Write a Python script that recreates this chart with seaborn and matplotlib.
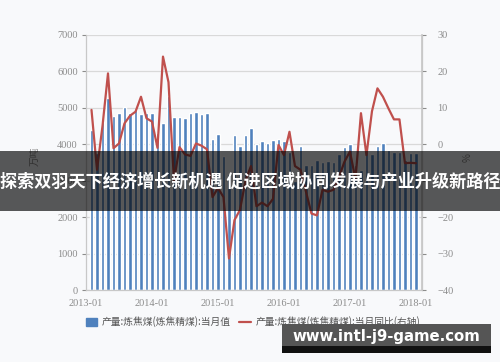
import numpy as np
import pandas as pd
import matplotlib
matplotlib.use("Agg")
import matplotlib.pyplot as plt
import seaborn as sns
from matplotlib.patches import Patch, Rectangle
from matplotlib.lines import Line2D

months = ["2013-02","2013-03","2013-04","2013-05","2013-06","2013-07","2013-08","2013-09","2013-10","2013-11","2013-12",
          "2014-01","2014-02","2014-03","2014-04","2014-05","2014-06","2014-07","2014-08","2014-09","2014-10","2014-11","2014-12",
          "2015-01","2015-02","2015-03","2015-04","2015-05","2015-06","2015-07","2015-08","2015-09","2015-10","2015-11","2015-12",
          "2016-01","2016-02","2016-03","2016-04","2016-05","2016-06","2016-07","2016-08","2016-09","2016-10","2016-11","2016-12",
          "2017-01","2017-02","2017-03","2017-04","2017-05","2017-06","2017-07","2017-08","2017-09","2017-10","2017-11","2017-12",
          "2018-01"]
volume = [4400, 3750, 4600, 5275, 4770, 4855, 5010, 4855, 4945, 4830, 4850,
          4846, 4298, 4589, 5330, 4737, 4737, 4710, 4846, 4873, 4827, 4846, 4142,
          4279, 3676, 3184, 4244, 3960, 4260, 4435, 4005, 4079, 4024, 4106, 4142,
          4079, 3795, 3000, 3942, 3438, 3438, 3567, 3504, 3548, 3520, 3731, 3934,
          3997, 3430, 3300, 3820, 3723, 3960, 4024, 3841, 3786, 3786, 3560, 3770,
          3760]
yoy = [9.4, -7.0, 5.0, 19.4, -1.1, 0.2, 5.7, 7.8, 8.9, 13.0, 7.1,
       6.2, -1.0, 24.0, 17.0, -10.0, -0.8, -2.8, -3.2, 0.2, -0.4, -1.4, -14.5,
       -12.0, -14.5, -31.3, -20.8, -18.0, -10.0, -6.0, -17.0, -16.0, -17.0, -15.0, -0.2,
       -3.0, 3.4, -6.0, -7.0, -13.0, -19.0, -19.5, -12.5, -13.0, -12.5, -9.0, -4.8,
       -2.0, -9.6, 8.5, -3.0, 9.0, 15.3, 13.0, 9.8, 6.8, 6.8, -5.2, -5.1,
       -5.2]
tick_labels = ["2013-01", "2014-01", "2015-01", "2016-01", "2017-01", "2018-01"]
left_label = "万吨"
right_label = "%"
legend_labels = ["产量:炼焦煤(炼焦精煤):当月值", "产量:炼焦煤(炼焦精煤):当月同比(右轴)"]
banner_text = "探索双羽天下经济增长新机遇 促进区域协同发展与产业升级新路径"
watermark = "www.intl-j9-game.com"

dt = pd.to_datetime(months)
idx = (dt.year - 2013) * 12 + (dt.month - 1)
df = pd.DataFrame({"m": idx, "vol": volume, "yoy": yoy})

sns.set_theme(style="white")
plt.rcParams["font.family"] = ["Noto Sans CJK SC", "DejaVu Sans"]

BLUE = "#4f81bd"
RED = "#c0504d"
GRID = "#d9d9d9"
TICK = "#8c8c8c"

fig = plt.figure(figsize=(5.0, 3.62), dpi=100, facecolor="#f8f9fb")
ax = fig.add_axes([86/500, 1-290.2/362, (422-86)/500, (290.2-34.7)/362])
ax.set_facecolor("#f8f9fb")

sns.barplot(data=df, x="m", y="vol", native_scale=True, color=BLUE, width=0.62,
            saturation=1, ax=ax, zorder=2)
ax.set_xlim(0, 61.1)
ax.set_ylim(0, 7000)
ax.set_yticks(np.arange(0, 7001, 1000))
ax.set_xticks([0, 12, 24, 36, 48, 60])
ax.set_xticklabels(tick_labels)
ax.yaxis.grid(True, color=GRID, linewidth=0.9, zorder=0)
ax.set_axisbelow(True)
for s in ["left", "bottom", "right"]:
    ax.spines[s].set_color("#c8c8c8")
    ax.spines[s].set_linewidth(0.9)
ax.spines["top"].set_visible(False)
ax.tick_params(axis="both", colors=TICK, length=3, width=0.8, labelsize=7.5, pad=3)
for lab in ax.get_xticklabels() + ax.get_yticklabels():
    lab.set_family(["Liberation Serif"])
    lab.set_color(TICK)
ax.set_xlabel("")
ax.set_ylabel(left_label, color=TICK, fontsize=7)
ax.yaxis.set_label_coords(-46/336, (290.2-156)/255.5)

ax2 = ax.twinx()
sns.lineplot(data=df, x="m", y="yoy", color=RED, linewidth=1.6, ax=ax2, zorder=3)
ax2.set_ylim(-40, 30)
ax2.set_yticks(np.arange(-40, 31, 10))
ax2.set_xlim(0, 61.1)
for s in ["left", "bottom", "top"]:
    ax2.spines[s].set_visible(False)
ax2.spines["right"].set_color("#c8c8c8")
ax2.tick_params(axis="y", colors=TICK, length=3, width=0.8, labelsize=7.5, pad=8)
for lab in ax2.get_yticklabels():
    lab.set_family(["Liberation Serif"])
    lab.set_color(TICK)
ax2.set_xlabel("")
ax2.set_ylabel(right_label, color=TICK, fontsize=7)
ax2.yaxis.set_label_coords((463-86)/336, (290.2-158)/255.5)
ax2.yaxis.grid(False)

handles = [Patch(facecolor=BLUE, edgecolor=BLUE), Line2D([0], [0], color=RED, linewidth=1.6)]
leg = fig.legend(handles, legend_labels, loc="center", bbox_to_anchor=(253/500, 1-322/362),
                 ncol=2, frameon=False, fontsize=7.0, handlelength=1.2, handleheight=1.0,
                 columnspacing=0.9, handletextpad=0.45)
for t in leg.get_texts():
    t.set_color("#555555")

# banner overlay
fig.patches.append(Rectangle((0, 1-210.7/362), 1, (210.7-151)/362, transform=fig.transFigure,
                             facecolor="black", alpha=0.65, edgecolor="none", zorder=10))
bt = fig.text(0.5, 1-182/362, banner_text, color="white", fontsize=12.2, fontweight="bold",
              ha="center", va="center", zorder=11)

# watermark box
fig.patches.append(Rectangle((282/500, 1-346/362), (491-282)/500, (346-324.3)/362,
                             transform=fig.transFigure, facecolor="#555555", edgecolor="none", zorder=10))
fig.patches.append(Rectangle((282/500, 1-352.7/362), (491-282)/500, (352.7-346)/362,
                             transform=fig.transFigure, facecolor="#111111", edgecolor="none", zorder=10))
wt = fig.text(386/500, 1-336.5/362, watermark, color="white", fontsize=11, fontweight="bold",
              family=["DejaVu Sans"], ha="center", va="center", zorder=11)

# fit text widths
fig.canvas.draw()
r = fig.canvas.get_renderer()
for t, target in [(bt, 498), (wt, 188)]:
    w = t.get_window_extent(r).width
    t.set_fontsize(t.get_fontsize() * target / w)

fig.savefig("out.png", dpi=100, facecolor=fig.get_facecolor())
